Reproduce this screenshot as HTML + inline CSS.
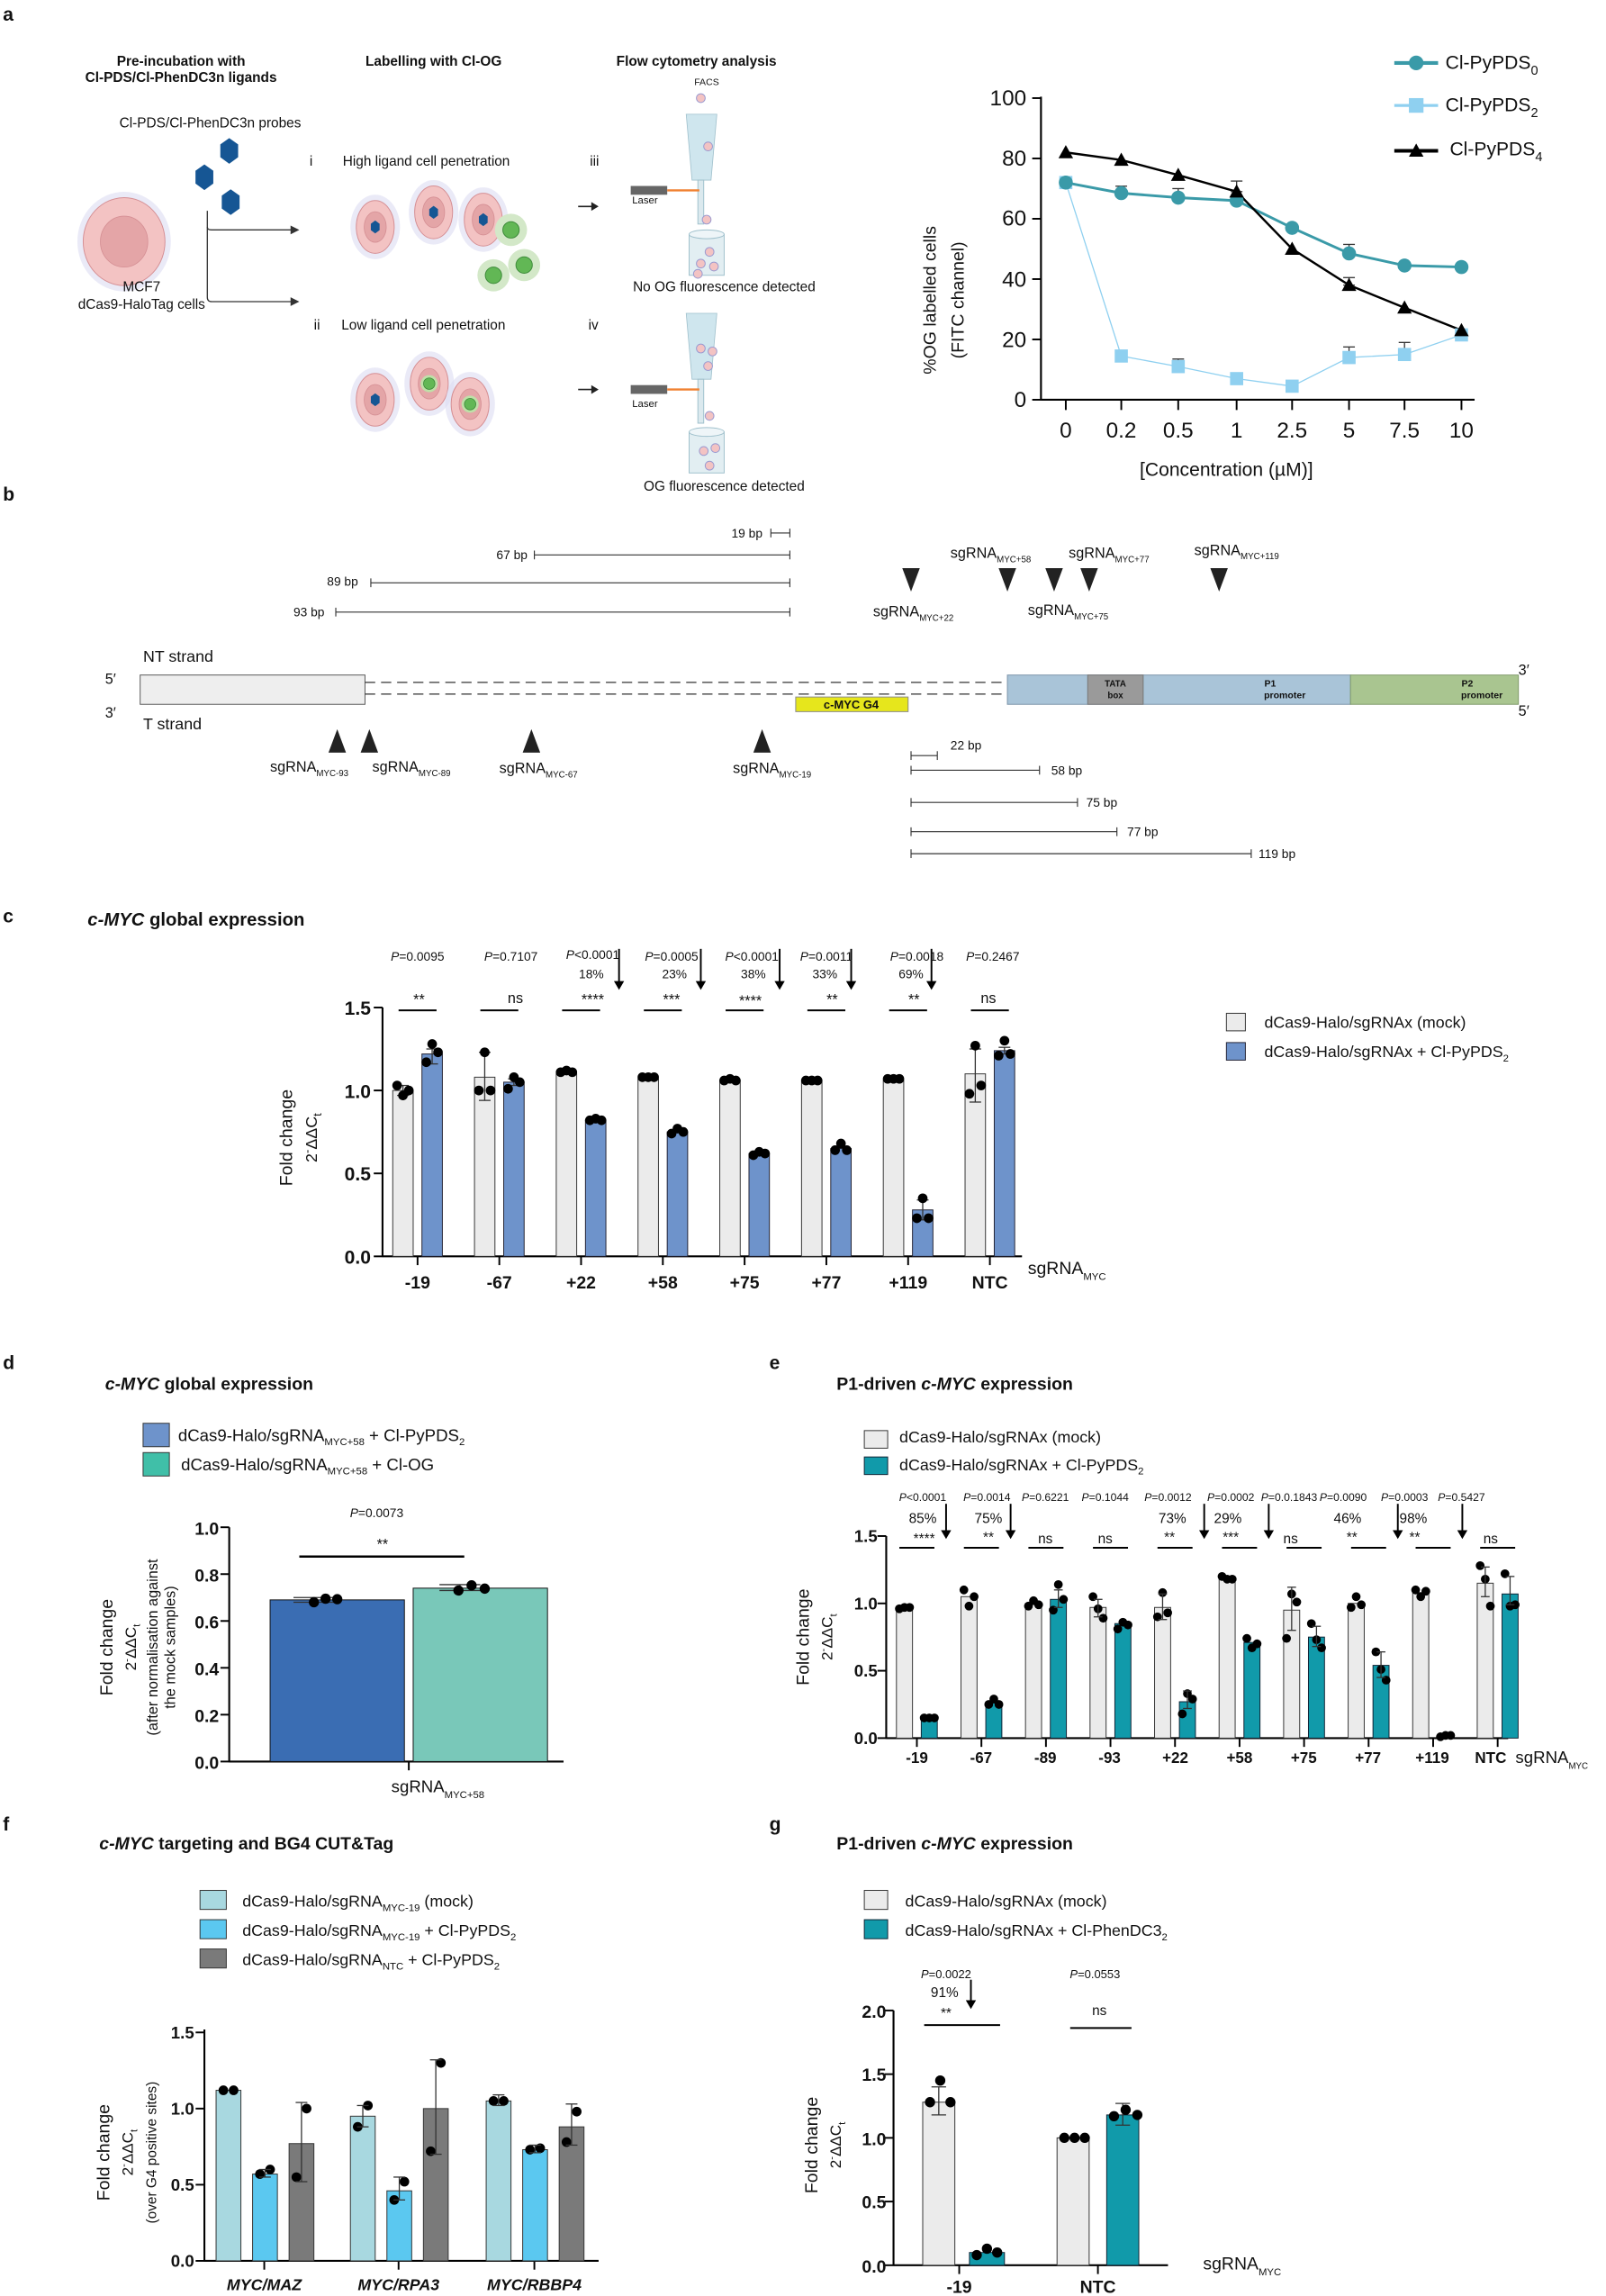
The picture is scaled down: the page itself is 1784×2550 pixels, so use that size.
<!DOCTYPE html>
<html><head><meta charset="utf-8"><style>
html,body{margin:0;padding:0;background:#fff}
svg{display:block}
text{font-family:"Liberation Sans",sans-serif;fill:#111}
.b{font-weight:bold}
.n{font-family:"Liberation Sans Narrow","Liberation Sans",sans-serif}
</style></head><body>
<svg id="s" width="1784" height="2550" viewBox="0 0 1100 1568" preserveAspectRatio="none" xmlns="http://www.w3.org/2000/svg">
<g id="g"></g>
<text x="2" y="14" font-size="13" class="b">a</text>
<text x="2" y="342" font-size="13" class="b">b</text>
<text x="2" y="630" font-size="13" class="b">c</text>
<text x="2" y="935" font-size="13" class="b">d</text>
<text x="527" y="935" font-size="13" class="b">e</text>
<text x="2" y="1250" font-size="13" class="b">f</text>
<text x="527" y="1250" font-size="13" class="b">g</text>

<g font-size="9.5" text-anchor="middle">
<text x="124" y="45" class="b">Pre-incubation with</text>
<text x="124" y="56" class="b">Cl-PDS/Cl-PhenDC3n ligands</text>
<text x="297" y="45" class="b">Labelling with Cl-OG</text>
<text x="477" y="45" class="b">Flow cytometry analysis</text>
<text x="484" y="58" font-size="6.5">FACS</text>
<text x="144" y="87">Cl-PDS/Cl-PhenDC3n probes</text>
<text x="97" y="199">MCF7</text>
<text x="97" y="211">dCas9-HaloTag cells</text>
<text x="292" y="113">High ligand cell penetration</text>
<text x="290" y="225">Low ligand cell penetration</text>
<text x="496" y="199">No OG fluorescence detected</text>
<text x="496" y="335">OG fluorescence detected</text>
</g>
<g font-size="9.5">
<text x="212" y="113">i</text><text x="215" y="225">ii</text>
<text x="404" y="113">iii</text><text x="403" y="225">iv</text>
<text x="433" y="139" font-size="7">Laser</text><text x="433" y="278" font-size="7">Laser</text>
</g>

<g font-size="15" text-anchor="end" class="n">
<text x="703" y="72">100</text><text x="703" y="113">80</text><text x="703" y="154">60</text><text x="703" y="196">40</text><text x="703" y="237">20</text><text x="703" y="278">0</text>
</g>
<g font-size="15" text-anchor="middle" class="n">
<text x="730" y="299">0</text><text x="768" y="299">0.2</text><text x="807" y="299">0.5</text><text x="847" y="299">1</text><text x="885" y="299">2.5</text><text x="924" y="299">5</text><text x="962" y="299">7.5</text><text x="1001" y="299">10</text>
<text x="840" y="325" font-size="13">[Concentration (µM)]</text>
</g>
<text transform="translate(641,205) rotate(-90)" text-anchor="middle" font-size="12">%OG labelled cells</text>
<text transform="translate(660,205) rotate(-90)" text-anchor="middle" font-size="12">(FITC channel)</text>
<g font-size="13" class="n">
<text x="990" y="47">Cl-PyPDS<tspan dy="4" font-size="9">0</tspan></text>
<text x="990" y="76">Cl-PyPDS<tspan dy="4" font-size="9">2</tspan></text>
<text x="993" y="106">Cl-PyPDS<tspan dy="4" font-size="9">4</tspan></text>
</g>

<g font-size="8.5">
<text x="501" y="367">19 bp</text><text x="340" y="382">67 bp</text><text x="224" y="400">89 bp</text><text x="201" y="421">93 bp</text>
<text x="651" y="512">22 bp</text><text x="720" y="529">58 bp</text><text x="744" y="551">75 bp</text><text x="772" y="571">77 bp</text><text x="862" y="586">119 bp</text>
</g>
<g font-size="10">
<text x="651" y="381">sgRNA<tspan font-size="6" dy="3">MYC+58</tspan></text>
<text x="732" y="381">sgRNA<tspan font-size="6" dy="3">MYC+77</tspan></text>
<text x="818" y="379">sgRNA<tspan font-size="6" dy="3">MYC+119</tspan></text>
<text x="598" y="421">sgRNA<tspan font-size="6" dy="3">MYC+22</tspan></text>
<text x="704" y="420">sgRNA<tspan font-size="6" dy="3">MYC+75</tspan></text>
<text x="185" y="527">sgRNA<tspan font-size="6" dy="3">MYC-93</tspan></text>
<text x="255" y="527">sgRNA<tspan font-size="6" dy="3">MYC-89</tspan></text>
<text x="342" y="528">sgRNA<tspan font-size="6" dy="3">MYC-67</tspan></text>
<text x="502" y="528">sgRNA<tspan font-size="6" dy="3">MYC-19</tspan></text>
<text x="98" y="452" font-size="11">NT strand</text><text x="98" y="498" font-size="11">T strand</text>
<text x="72" y="467">5′</text><text x="72" y="490">3′</text>
<text x="1040" y="461">3′</text><text x="1040" y="489">5′</text>
</g>

<text x="60" y="632" font-size="12.5" class="b"><tspan font-style="italic">c-MYC</tspan> global expression</text>
<g font-size="13" class="b n" text-anchor="end">
<text x="254" y="693">1.5</text><text x="254" y="750">1.0</text><text x="254" y="806">0.5</text><text x="254" y="863">0.0</text>
</g>
<g font-size="12" class="b n" text-anchor="middle">
<text x="286" y="880">-19</text><text x="342" y="880">-67</text><text x="398" y="880">+22</text><text x="454" y="880">+58</text><text x="510" y="880">+75</text><text x="566" y="880">+77</text><text x="622" y="880">+119</text><text x="678" y="880">NTC</text>
</g>
<text x="704" y="870" font-size="12">sgRNA<tspan font-size="7" dy="4">MYC</tspan></text>
<text transform="translate(200,777) rotate(-90)" text-anchor="middle" font-size="12">Fold change</text>
<text transform="translate(217,777) rotate(-90)" text-anchor="middle" font-size="11">2<tspan dy="-4" font-size="8">-</tspan><tspan dy="4">ΔΔC</tspan><tspan dy="3" font-size="8">t</tspan></text>
<g font-size="8.5" text-anchor="middle" class="n">
<text x="286" y="656"><tspan font-style="italic">P</tspan>=0.0095</text>
<text x="350" y="656"><tspan font-style="italic">P</tspan>=0.7107</text>
<text x="406" y="655"><tspan font-style="italic">P</tspan>&lt;0.0001</text>
<text x="460" y="656"><tspan font-style="italic">P</tspan>=0.0005</text>
<text x="515" y="656"><tspan font-style="italic">P</tspan>&lt;0.0001</text>
<text x="566" y="656"><tspan font-style="italic">P</tspan>=0.0011</text>
<text x="628" y="656"><tspan font-style="italic">P</tspan>=0.0018</text>
<text x="680" y="656"><tspan font-style="italic">P</tspan>=0.2467</text>
<text x="405" y="668">18%</text><text x="462" y="668">23%</text><text x="516" y="668">38%</text><text x="565" y="668">33%</text><text x="624" y="668">69%</text>
<g font-size="10"><text x="287" y="686">**</text><text x="353" y="685">ns</text><text x="406" y="686">****</text><text x="460" y="686">***</text><text x="514" y="687">****</text><text x="570" y="686">**</text><text x="626" y="686">**</text><text x="677" y="685">ns</text></g>
</g>
<g font-size="11">
<text x="866" y="702">dCas9-Halo/sgRNAx (mock)</text>
<text x="866" y="722">dCas9-Halo/sgRNAx + Cl-PyPDS<tspan font-size="7" dy="3">2</tspan></text>
</g>

<text x="72" y="949" font-size="12" class="b"><tspan font-style="italic">c-MYC</tspan> global expression</text>
<g font-size="11.5">
<text x="122" y="984">dCas9-Halo/sgRNA<tspan font-size="7" dy="3">MYC+58</tspan><tspan dy="-3"> + Cl-PyPDS</tspan><tspan font-size="7" dy="3">2</tspan></text>
<text x="124" y="1004">dCas9-Halo/sgRNA<tspan font-size="7" dy="3">MYC+58</tspan><tspan dy="-3"> + Cl-OG</tspan></text>
</g>
<text x="258" y="1036" font-size="8.5" text-anchor="middle" class="n"><tspan font-style="italic">P</tspan>=0.0073</text>
<text x="262" y="1058" font-size="10" text-anchor="middle">**</text>
<g font-size="12" class="b n" text-anchor="end">
<text x="150" y="1048">1.0</text><text x="150" y="1080">0.8</text><text x="150" y="1112">0.6</text><text x="150" y="1144">0.4</text><text x="150" y="1176">0.2</text><text x="150" y="1208">0.0</text>
</g>
<text x="268" y="1224" font-size="11.5">sgRNA<tspan font-size="7" dy="4">MYC+58</tspan></text>
<text transform="translate(77,1125) rotate(-90)" text-anchor="middle" font-size="12">Fold change</text>
<text transform="translate(93,1125) rotate(-90)" text-anchor="middle" font-size="10.5">2<tspan dy="-4" font-size="7">-</tspan><tspan dy="4">ΔΔC</tspan><tspan dy="3" font-size="7">t</tspan></text>
<text transform="translate(108,1125) rotate(-90)" text-anchor="middle" font-size="10">(after normalisation against</text>
<text transform="translate(120,1125) rotate(-90)" text-anchor="middle" font-size="10">the mock samples)</text>

<text x="573" y="949" font-size="12" class="b">P1-driven <tspan font-style="italic">c-MYC</tspan> expression</text>
<g font-size="11">
<text x="616" y="985">dCas9-Halo/sgRNAx (mock)</text>
<text x="616" y="1004">dCas9-Halo/sgRNAx + Cl-PyPDS<tspan font-size="7" dy="3">2</tspan></text>
</g>
<g font-size="7.5" text-anchor="middle" class="n">
<text x="632" y="1025"><tspan font-style="italic">P</tspan>&lt;0.0001</text>
<text x="676" y="1025"><tspan font-style="italic">P</tspan>=0.0014</text>
<text x="716" y="1025"><tspan font-style="italic">P</tspan>=0.6221</text>
<text x="757" y="1025"><tspan font-style="italic">P</tspan>=0.1044</text>
<text x="800" y="1025"><tspan font-style="italic">P</tspan>=0.0012</text>
<text x="843" y="1025"><tspan font-style="italic">P</tspan>=0.0002</text>
<text x="883" y="1025"><tspan font-style="italic">P</tspan>=0.0.1843</text>
<text x="920" y="1025"><tspan font-style="italic">P</tspan>=0.0090</text>
<text x="962" y="1025"><tspan font-style="italic">P</tspan>=0.0003</text>
<text x="1001" y="1025"><tspan font-style="italic">P</tspan>=0.5427</text>
<g font-size="9.5"><text x="632" y="1040">85%</text><text x="677" y="1040">75%</text><text x="803" y="1040">73%</text><text x="841" y="1040">29%</text><text x="923" y="1040">46%</text><text x="968" y="1040">98%</text></g>
<g font-size="9.5"><text x="633" y="1054">****</text><text x="677" y="1053">**</text><text x="716" y="1054">ns</text><text x="757" y="1054">ns</text><text x="801" y="1053">**</text><text x="843" y="1053">***</text><text x="884" y="1054">ns</text><text x="926" y="1053">**</text><text x="969" y="1053">**</text><text x="1021" y="1054">ns</text></g>
</g>
<g font-size="11.5" class="b n" text-anchor="end">
<text x="601" y="1053">1.5</text><text x="601" y="1099">1.0</text><text x="601" y="1145">0.5</text><text x="601" y="1191">0.0</text>
</g>
<g font-size="10.5" class="b n" text-anchor="middle">
<text x="628" y="1204">-19</text><text x="672" y="1204">-67</text><text x="716" y="1204">-89</text><text x="760" y="1204">-93</text><text x="805" y="1204">+22</text><text x="849" y="1204">+58</text><text x="893" y="1204">+75</text><text x="937" y="1204">+77</text><text x="981" y="1204">+119</text><text x="1021" y="1204">NTC</text>
</g>
<text x="1038" y="1204" font-size="11.5">sgRNA<tspan font-size="6" dy="4">MYC</tspan></text>
<text transform="translate(554,1118) rotate(-90)" text-anchor="middle" font-size="12">Fold change</text>
<text transform="translate(570,1118) rotate(-90)" text-anchor="middle" font-size="10.5">2<tspan dy="-4" font-size="7">-</tspan><tspan dy="4">ΔΔC</tspan><tspan dy="3" font-size="7">t</tspan></text>

<text x="68" y="1263" font-size="12" class="b"><tspan font-style="italic">c-MYC</tspan> targeting and BG4 CUT&amp;Tag</text>
<g font-size="11">
<text x="166" y="1302">dCas9-Halo/sgRNA<tspan font-size="7" dy="3">MYC-19</tspan><tspan dy="-3"> (mock)</tspan></text>
<text x="166" y="1322">dCas9-Halo/sgRNA<tspan font-size="7" dy="3">MYC-19</tspan><tspan dy="-3"> + Cl-PyPDS</tspan><tspan font-size="7" dy="3">2</tspan></text>
<text x="166" y="1342">dCas9-Halo/sgRNA<tspan font-size="7" dy="3">NTC</tspan><tspan dy="-3"> + Cl-PyPDS</tspan><tspan font-size="7" dy="3">2</tspan></text>
</g>
<g font-size="11.5" class="b n" text-anchor="end">
<text x="133" y="1392">1.5</text><text x="133" y="1444">1.0</text><text x="133" y="1496">0.5</text><text x="133" y="1548">0.0</text>
</g>
<g font-size="11" class="b" font-style="italic" text-anchor="middle">
<text x="181" y="1564">MYC/MAZ</text><text x="273" y="1564">MYC/RPA3</text><text x="366" y="1564">MYC/RBBP4</text>
</g>
<text transform="translate(75,1470) rotate(-90)" text-anchor="middle" font-size="12">Fold change</text>
<text transform="translate(91,1470) rotate(-90)" text-anchor="middle" font-size="10.5">2<tspan dy="-4" font-size="7">-</tspan><tspan dy="4">ΔΔC</tspan><tspan dy="3" font-size="7">t</tspan></text>
<text transform="translate(107,1470) rotate(-90)" text-anchor="middle" font-size="9.5">(over G4 positive sites)</text>

<text x="573" y="1263" font-size="12" class="b">P1-driven <tspan font-style="italic">c-MYC</tspan> expression</text>
<g font-size="11">
<text x="620" y="1302">dCas9-Halo/sgRNAx (mock)</text>
<text x="620" y="1322">dCas9-Halo/sgRNAx + Cl-PhenDC3<tspan font-size="7" dy="3">2</tspan></text>
</g>
<g font-size="8" text-anchor="middle" class="n">
<text x="648" y="1351"><tspan font-style="italic">P</tspan>=0.0022</text>
<text x="750" y="1351"><tspan font-style="italic">P</tspan>=0.0553</text>
<text x="647" y="1364" font-size="9.5">91%</text>
<text x="648" y="1378" font-size="9.5">**</text>
<text x="753" y="1376" font-size="9.5">ns</text>
</g>
<g font-size="12" class="b n" text-anchor="end">
<text x="607" y="1378">2.0</text><text x="607" y="1421">1.5</text><text x="607" y="1465">1.0</text><text x="607" y="1508">0.5</text><text x="607" y="1552">0.0</text>
</g>
<g font-size="12" class="b n" text-anchor="middle"><text x="657" y="1566">-19</text><text x="752" y="1566">NTC</text></g>
<text x="824" y="1550" font-size="12">sgRNA<tspan font-size="7" dy="4">MYC</tspan></text>
<text transform="translate(560,1465) rotate(-90)" text-anchor="middle" font-size="12">Fold change</text>
<text transform="translate(576,1465) rotate(-90)" text-anchor="middle" font-size="10.5">2<tspan dy="-4" font-size="7">-</tspan><tspan dy="4">ΔΔC</tspan><tspan dy="3" font-size="7">t</tspan></text>
</svg>
<script>
(function(){
var g=document.getElementById('g');var NS='http://www.w3.org/2000/svg';
function el(t,a){var e=document.createElementNS(NS,t);for(var k in a)e.setAttribute(k,a[k]);g.appendChild(e);return e;}
function L(x1,y1,x2,y2,c,w,extra){var a={x1:x1,y1:y1,x2:x2,y2:y2,stroke:c||'#000','stroke-width':w||1};if(extra)for(var k in extra)a[k]=extra[k];return el('line',a);}
function R(x,y,w,h,f,s){return el('rect',{x:x,y:y,width:w,height:h,fill:f,stroke:s||'none','stroke-width':0.6});}
function C(x,y,r,f,s,sw){return el('circle',{cx:x,cy:y,r:r,fill:f,stroke:s||'none','stroke-width':sw||0});}
function P(d,f,s,w){return el('path',{d:d,fill:f||'none',stroke:s||'none','stroke-width':w||1});}
function arrowDown(x,y1,y2){L(x,y1,x,y2-5,'#000',1.2);P('M'+(x-3.5)+' '+(y2-6)+' L'+(x+3.5)+' '+(y2-6)+' L'+x+' '+y2+' Z','#000');}
function err(x,lo,hi,cw){L(x,lo,x,hi,'#333',0.8);L(x-cw,hi,x+cw,hi,'#333',0.8);L(x-cw,lo,x+cw,lo,'#333',0.8);}
function dots(x0,dx,ys,r){for(var i=0;i<ys.length;i++)C(x0+i*dx,ys[i],r,'#000');}

function hex(cx,cy,r,f){var d='';for(var i=0;i<6;i++){var a=Math.PI/3*i+Math.PI/6;d+=(i?'L':'M')+(cx+r*Math.cos(a)).toFixed(1)+' '+(cy+r*Math.sin(a)*1.25).toFixed(1);}P(d+'Z',f);}
function cell(cx,cy,rx,ry,inner){el('ellipse',{cx:cx,cy:cy,rx:rx+4,ry:ry+4,fill:'#dcdcf2',opacity:0.6});el('ellipse',{cx:cx,cy:cy,rx:rx,ry:ry,fill:'#f3c3c3',stroke:'#d58f94','stroke-width':0.6});el('ellipse',{cx:cx,cy:cy,rx:rx*0.58,ry:ry*0.58,fill:'#e4a5a7',stroke:'#d58f94','stroke-width':0.5});if(inner==='b')hex(cx,cy,3.5,'#165694');if(inner==='g'){C(cx,cy,rx*0.45,'#bfe0a8');C(cx,cy,rx*0.3,'#62b755','#3d8a3a',0.5);}}
function gcell(cx,cy,r){C(cx,cy,r+3,'#d3e8c8');C(cx,cy,r*0.7,'#62b755','#3d8a3a',0.6);}
hex(157,103,7,'#165694');hex(140,121,7,'#165694');hex(158,138,7,'#165694');
cell(85,165,28,30,null);
P('M142 144 L142 203 Q142 206 145 206 L203 206','none','#333',0.8);P('M142 155 Q142 157 145 157 L203 157','none','#333',0.8);
P('M199 154 L205 157 L199 160 Z','#333');P('M199 203 L205 206 L199 209 Z','#333');
cell(257,155,13,18,'b');cell(297,145,13,18,'b');cell(331,150,13,18,'b');gcell(350,157,8);gcell(359,181,8);gcell(338,188,8);
cell(257,273,13,18,'b');cell(294,262,13,18,'g');cell(322,276,13,18,'g');
L(396,141,407,141,'#222',1);P('M405 138 L410 141 L405 144 Z','#222');
L(396,266,407,266,'#222',1);P('M405 263 L410 266 L405 269 Z','#222');
function funnel(y){P('M470 '+y+' L491 '+y+' L487 '+(y+45)+' L474 '+(y+45)+' Z','#cfe6ee','#9fc0cc',0.5);R(478,y+45,4,30,'#dbe9ee','#9fc0cc');R(432,y+49,25,6,'#666');L(457,y+52,479,y+52,'#f08030',1.5);}
funnel(78);funnel(214);
C(480,67,3,'#f3c3c3','#9a9ad0',0.6);C(485,100,3,'#f3c3c3','#9a9ad0',0.6);C(484,150,3,'#f3c3c3','#9a9ad0',0.6);
C(486,284,3,'#f3c3c3','#9a9ad0',0.6);
function tube(y){R(472,y,24,28,'#e2eef2','#9fc0cc');el('ellipse',{cx:484,cy:y,rx:12,ry:3,fill:'#eef5f8',stroke:'#9fc0cc','stroke-width':0.6});}
tube(160);tube(295);
C(486,172,3,'#f3c3c3','#9a9ad0',0.6);C(480,180,3,'#f3c3c3','#9a9ad0',0.6);C(489,182,3,'#f3c3c3','#9a9ad0',0.6);C(478,187,3,'#f3c3c3','#9a9ad0',0.6);
C(480,238,3,'#f3c3c3','#9a9ad0',0.6);C(488,240,3,'#f3c3c3','#9a9ad0',0.6);C(485,250,3,'#f3c3c3','#9a9ad0',0.6);
C(482,308,3,'#f3c3c3','#9a9ad0',0.6);C(490,306,3,'#f3c3c3','#9a9ad0',0.6);C(486,318,3,'#f3c3c3','#9a9ad0',0.6);

var ax=[730,768,807,847,885,924,962,1001];function ya(v){return 273-2.06*v;}
L(713,66,713,273.5,'#000',1.3);L(713,273,1010,273,'#000',1.3);
for(var v=0;v<=100;v+=20)L(707,ya(v),713,ya(v),'#000',1.2);
ax.forEach(function(x){L(x,273,x,280,'#000',1.2);});
var s0=[72,68.5,67,66,57,48.5,44.5,44],s2=[72,14.5,11,7,4.5,14,15,21.5],s4=[82,79.5,74.5,69,50,38,30.5,23];
function poly(arr,c,w){el('polyline',{points:arr.map(function(v,i){return ax[i]+','+ya(v)}).join(' '),fill:'none',stroke:c,'stroke-width':w});}
poly(s2,'#8fd0f0',0.8);poly(s0,'#3a9aa8',1.8);poly(s4,'#000',1.5);
err(807,ya(11),ya(13.5),4);err(924,ya(14),ya(17.5),4);err(962,ya(15),ya(19),4);
err(768,ya(68.5),ya(70.8),4);err(807,ya(67),ya(70),4);err(924,ya(48.5),ya(51.5),4);err(847,ya(69),ya(72.5),4);err(924,ya(38),ya(40.5),4);
s2.forEach(function(v,i){R(ax[i]-4.5,ya(v)-4.5,9,9,'#8fd0f0');});
s0.forEach(function(v,i){C(ax[i],ya(v),4.8,'#3a9aa8');});
s4.forEach(function(v,i){var x=ax[i],y=ya(v);P('M'+(x-5)+' '+(y+4)+' L'+(x+5)+' '+(y+4)+' L'+x+' '+(y-5)+' Z','#000');});
L(955,43,985,43,'#3a9aa8',2.5);C(970,43,5,'#3a9aa8');
L(955,72,985,72,'#8fd0f0',2);R(965,67,10,10,'#8fd0f0');
L(955,103,985,103,'#000',2.5);P('M965 107 L975 107 L970 98 Z','#000');

function brk(x1,x2,y){L(x1,y,x2,y,'#333',0.7);L(x1,y-3,x1,y+3,'#333',0.7);L(x2,y-3,x2,y+3,'#333',0.7);}
brk(528,541,364);brk(366,541,379);brk(254,541,398);brk(230,541,418);
brk(624,642,516);brk(624,712,526);brk(624,738,548);brk(624,765,568);brk(624,857,583);
function triD(x,y){P('M'+(x-6)+' '+(y-8)+' L'+(x+6)+' '+(y-8)+' L'+x+' '+(y+8)+' Z','#222');}
function triU(x,y){P('M'+(x-6)+' '+(y+8)+' L'+(x+6)+' '+(y+8)+' L'+x+' '+(y-8)+' Z','#222');}
[624,690,722,746,835].forEach(function(x){triD(x,396);});
[231,253,364,522].forEach(function(x){triU(x,506);});
R(96,461,154,20,'#eeeeee','#555');
L(250,466,690,466,'#333',0.8,{'stroke-dasharray':'7,4'});L(250,474,690,474,'#333',0.8,{'stroke-dasharray':'7,4'});
R(545,476,77,10,'#e6e61c','#888');
R(690,461,235,20,'#a9c4d8','#7a93a8');R(745,461,38,20,'#9a9a9a','#777');R(925,461,115,20,'#a9c590','#7f9a6a');
var t;t=el('text',{x:583,y:484,'font-size':8,'font-weight':'bold','text-anchor':'middle'});t.textContent='c-MYC G4';
t=el('text',{x:764,y:469,'font-size':6,'font-weight':'bold','text-anchor':'middle'});t.textContent='TATA';
t=el('text',{x:764,y:477,'font-size':6,'font-weight':'bold','text-anchor':'middle'});t.textContent='box';
t=el('text',{x:870,y:469,'font-size':6.5,'font-weight':'bold','text-anchor':'middle'});t.textContent='P1';
t=el('text',{x:880,y:477,'font-size':6.5,'font-weight':'bold','text-anchor':'middle'});t.textContent='promoter';
t=el('text',{x:1005,y:469,'font-size':6.5,'font-weight':'bold','text-anchor':'middle'});t.textContent='P2';
t=el('text',{x:1015,y:477,'font-size':6.5,'font-weight':'bold','text-anchor':'middle'});t.textContent='promoter';

function yc(v){return 858-113.3*v;}
L(262,688,262,858.5,'#000',1.3);L(262,858,700,858,'#000',1.3);
[0,0.5,1,1.5].forEach(function(v){L(256,yc(v),262,yc(v),'#000',1.2);});
var cc=[286,342,398,454,510,566,622,678];
var cg=[1.0,1.08,1.10,1.07,1.06,1.06,1.06,1.10],cb=[1.22,1.05,0.82,0.75,0.62,0.65,0.28,1.24];
cc.forEach(function(c,i){L(c,858,c,864,'#000',1.2);
R(c-17,yc(cg[i]),14,858-yc(cg[i]),'#ebebeb','#333');R(c+3,yc(cb[i]),14,858-yc(cb[i]),'#6e93cb','#223');
L(c-13,690,c+13,690,'#000',1.2);});
err(276,yc(0.97),yc(1.03),4);err(332,yc(0.94),yc(1.23),4);err(668,yc(0.93),yc(1.25),4);
err(296,yc(1.16),yc(1.25),4);err(352,yc(1.03),yc(1.07),4);err(632,yc(0.22),yc(0.34),4);err(688,yc(1.22),yc(1.26),4);
var dg=[[1.03,0.97,1.0],[1.0,1.23,1.0],[1.11,1.12,1.11],[1.08,1.08,1.08],[1.06,1.07,1.06],[1.06,1.06,1.06],[1.07,1.07,1.07],[0.98,1.27,1.03]];
var db=[[1.17,1.28,1.23],[1.01,1.08,1.05],[0.82,0.83,0.82],[0.74,0.77,0.75],[0.61,0.63,0.62],[0.64,0.68,0.64],[0.23,0.35,0.23],[1.21,1.3,1.22]];
cc.forEach(function(c,i){dots(c-14,4,dg[i].map(yc),3.3);dots(c+6,4,db[i].map(yc),3.3);});
[424,480,534,583,638].forEach(function(x){arrowDown(x,648,676);});
R(840,692,13,12,'#ebebeb','#333');R(840,712,13,12,'#6e93cb','#223');

function yd(v){return 1203-160*v;}
L(157,1043,157,1203.5,'#000',1.3);L(157,1203,386,1203,'#000',1.3);
for(var k=0;k<=5;k++)L(151,yd(k*0.2),157,yd(k*0.2),'#000',1.2);
L(280,1203,280,1209,'#000',1.2);
R(185,yd(0.69),92,1203-yd(0.69),'#3a6db3','#111');R(283,yd(0.74),92,1203-yd(0.74),'#79c8b9','#111');
err(215,yd(0.68),yd(0.70),14);err(315,yd(0.73),yd(0.755),14);
dots(215,8,[yd(0.68),yd(0.695),yd(0.693)],3.5);dots(314,9,[yd(0.73),yd(0.752),yd(0.738)],3.5);
L(205,1063,318,1063,'#000',1.5);
R(98,972,18,16,'#6e93cb','#333');R(98,992,18,16,'#40bfa8','#333');

function ye(v){return 1187-92*v;}
L(607,1049,607,1187.5,'#000',1.3);L(607,1187,1033,1187,'#000',1.3);
[0,0.5,1,1.5].forEach(function(v){L(601,ye(v),607,ye(v),'#000',1.2);});
var ec=[];for(var i=0;i<10;i++)ec.push(628+44.2*i);
var eg=[0.97,1.05,1.0,0.97,0.97,1.18,0.95,1.0,1.08,1.15],et=[0.15,0.26,1.03,0.85,0.27,0.71,0.75,0.54,0.01,1.07];
ec.forEach(function(c,i){L(c,1187,c,1193,'#000',1.2);
R(c-14,ye(eg[i]),11,1187-ye(eg[i]),'#ebebeb','#333');R(c+3,ye(et[i]),11,1187-ye(et[i]),'#119aaa','#123');
L(c-12,1057,c+12,1057,'#000',1.2);});
var egd=[[0.96,0.97,0.97],[1.1,0.98,1.05],[0.98,1.02,0.99],[1.05,0.96,0.89],[0.9,1.08,0.93],[1.2,1.18,1.18],[0.74,1.07,1.01],[0.97,1.05,0.99],[1.1,1.05,1.09],[1.28,1.18,0.98]];
var etd=[[0.15,0.15,0.15],[0.25,0.29,0.25],[0.95,1.14,1.03],[0.81,0.86,0.84],[0.18,0.33,0.29],[0.74,0.67,0.7],[0.85,0.73,0.67],[0.64,0.51,0.43],[0.01,0.02,0.02],[1.22,0.98,0.99]];
ec.forEach(function(c,i){dots(c-12,3.5,egd[i].map(ye),3);dots(c+5,3.5,etd[i].map(ye),3);});
err(ec[3]-8.5,ye(0.9),ye(1.03),3);err(ec[4]-8.5,ye(0.88),ye(1.07),3);err(ec[6]-8.5,ye(0.8),ye(1.12),3);err(ec[9]-8.5,ye(1.05),ye(1.27),3);
err(ec[2]+8.5,ye(0.97),ye(1.1),3);err(ec[6]+8.5,ye(0.68),ye(0.83),3);err(ec[7]+8.5,ye(0.45),ye(0.64),3);err(ec[9]+8.5,ye(0.99),ye(1.2),3);err(ec[4]+8.5,ye(0.22),ye(0.35),3);
[0,1,4,5,7,8].forEach(function(i){arrowDown(ec[i]+20,1027,1051);});
R(592,977,16,12,'#ebebeb','#333');R(592,995,16,12,'#119aaa','#123');

function yf(v){return 1544-104*v;}
L(140,1386,140,1544.5,'#000',1.3);L(140,1544,410,1544,'#000',1.3);
[0,0.5,1,1.5].forEach(function(v){L(134,yf(v),140,yf(v),'#000',1.2);});
var fc=[181,273,366],fcol=['#a8d8e0','#5bc8f0','#7a7a7a'];
var fv=[[1.12,0.57,0.77],[0.95,0.46,1.0],[1.05,0.73,0.88]];
var fd=[[[1.12,1.12],[0.57,0.6],[0.55,1.0]],[[0.88,1.02],[0.40,0.52],[0.72,1.3]],[[1.05,1.05],[0.73,0.74],[0.78,0.98]]];
fc.forEach(function(c,i){L(c,1544,c,1550,'#000',1.2);
for(var j=0;j<3;j++){var x=c-33+j*25;R(x,yf(fv[i][j]),17,1544-yf(fv[i][j]),fcol[j],'#333');
dots(x+5,7,fd[i][j].map(yf),3.3);}});
err(206.5,yf(0.52),yf(1.04),4);err(298.5,yf(0.7),yf(1.32),4);err(391.5,yf(0.76),yf(1.03),4);err(248.5,yf(0.88),yf(1.02),4);err(273.5,yf(0.40),yf(0.55),4);err(341.5,yf(1.02),yf(1.09),4);err(181.5,yf(0.55),yf(0.60),4);err(366.5,yf(0.71),yf(0.76),4);
R(137,1291,18,13,fcol[0],'#333');R(137,1311,18,13,fcol[1],'#333');R(137,1331,18,13,fcol[2],'#333');

function yg(v){return 1547-87*v;}
L(612,1373,612,1547.5,'#000',1.3);L(612,1547,800,1547,'#000',1.3);
[0,0.5,1,1.5,2].forEach(function(v){L(606,yg(v),612,yg(v),'#000',1.2);});
L(657,1547,657,1553,'#000',1.2);L(752,1547,752,1553,'#000',1.2);
R(632,yg(1.28),22,1547-yg(1.28),'#ebebeb','#333');R(664,yg(0.10),24,1547-yg(0.10),'#119aaa','#123');
R(724,yg(1.0),22,1547-yg(1.0),'#ebebeb','#333');R(758,yg(1.18),22,1547-yg(1.18),'#119aaa','#123');
err(643,yg(1.18),yg(1.40),5);err(769,yg(1.1),yg(1.27),5);
dots(637,7,[yg(1.28),yg(1.45),yg(1.28)],3.5);dots(669,7,[yg(0.08),yg(0.13),yg(0.1)],3.5);
dots(729,7,[yg(1.0),yg(1.0),yg(1.0)],3.5);dots(763,8,[yg(1.17),yg(1.22),yg(1.18)],3.5);
arrowDown(665,1352,1372);L(633,1383,685,1383,'#000',1.2);L(733,1385,775,1385,'#000',1.2);
R(592,1291,16,13,'#ebebeb','#333');R(592,1311,16,13,'#119aaa','#123');
})();
</script>
</body></html>
